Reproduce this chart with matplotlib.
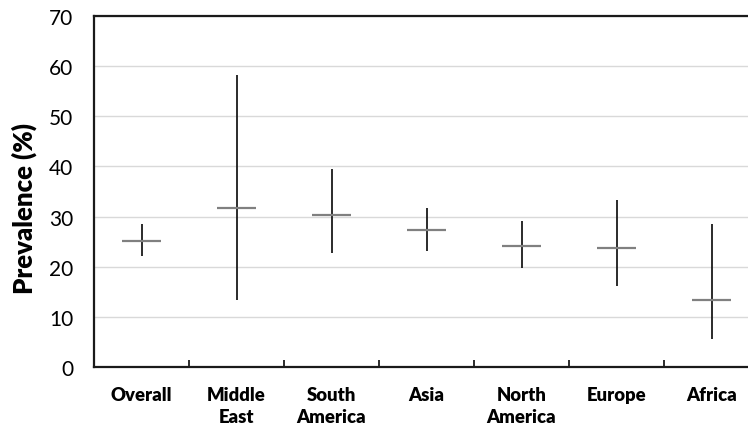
import matplotlib
matplotlib.use("Agg")
import matplotlib.pyplot as plt

categories = ["Overall", "Middle\nEast", "South\nAmerica", "Asia", "North\nAmerica", "Europe", "Africa"]
estimate = [25.2, 31.7, 30.3, 27.3, 24.1, 23.7, 13.4]
lower = [22.1, 13.4, 22.7, 23.1, 19.7, 16.1, 5.6]
upper = [28.5, 58.2, 39.4, 31.8, 29.1, 33.3, 28.5]
yticks = [0, 10, 20, 30, 40, 50, 60, 70]

plt.rcParams['font.family'] = ['Lato', 'DejaVu Sans']

fig = plt.figure(figsize=(7.48, 4.27), dpi=100)
ax = fig.add_axes([94/748, 59/427, 665/748, 351/427])

x = list(range(len(categories)))
ax.vlines(x, lower, upper, color='#1a1a1a', lw=1.3, zorder=3)
ax.hlines(estimate, [i - 0.205 for i in x], [i + 0.205 for i in x], color='#808080', lw=1.6, zorder=4)

ax.set_xlim(-0.5, len(categories) - 0.5)
ax.set_ylim(0, 70)
ax.set_yticks(yticks)
ax.set_yticklabels([str(v) for v in yticks], fontsize=15)
ax.yaxis.grid(True, color='#d9d9d9', lw=1)
ax.set_axisbelow(True)
ax.tick_params(axis='y', length=0, pad=15)

ax.set_xticks([i + 0.5 for i in x[:-1]])
ax.set_xticklabels([])
ax.set_xticks(x, minor=True)
ax.set_xticklabels(categories, minor=True, fontsize=13.3, fontweight='heavy', linespacing=1.35)
ax.tick_params(axis='x', which='major', direction='in', length=5, width=1.3, color='#1a1a1a')
ax.tick_params(axis='x', which='minor', length=0, pad=14)

for s in ax.spines.values():
    s.set_linewidth(1.6)
    s.set_color('#1a1a1a')

ax.set_ylabel("Prevalence (%)", fontsize=18.5, fontweight='heavy')
ax.yaxis.set_label_coords((37 - 94) / 665, 0.5 - 16 / 351)

fig.savefig("out.png", dpi=100)
